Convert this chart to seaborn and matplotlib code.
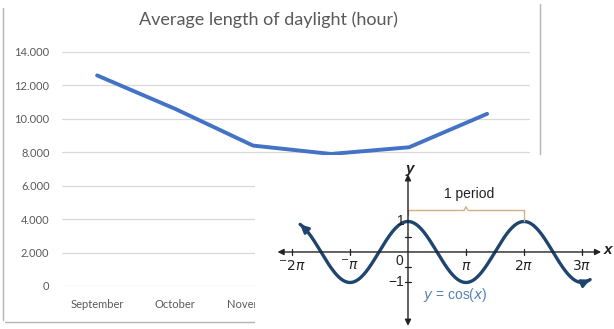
import numpy as np
import pandas as pd
import seaborn as sns
import matplotlib.pyplot as plt
from matplotlib.lines import Line2D

# Excel chart data
months = ["September", "October", "November", "December", "January", "February"]
daylight = [12.6, 10.6, 8.4, 7.9, 8.3, 10.3]
y_ticks = [0, 2, 4, 6, 8, 10, 12, 14]
y_labels = ["0", "2.000", "4.000", "6.000", "8.000", "10.000", "12.000", "14.000"]

# cosine graph (x in multiples of pi)
pi_ticks = [-2, -1, 1, 2, 3]
pi_labels = [r"$^{-}2\pi$", r"$^{-}\pi$", r"$\pi$", r"$2\pi$", r"$3\pi$"]
cos_start, cos_end = -1.86, 3.14

W, H = 614, 329
def fx(px):
    return px / W
def fy(py):
    return 1 - py / H

sns.set_style("white")
fig = plt.figure(figsize=(W / 100, H / 100), dpi=100)

# ---- background line chart
ax = fig.add_axes([fx(62), fy(286), fx(530) - fx(62), fy(52) - fy(286)])
ax.set_zorder(0)
df = pd.DataFrame({"month": months, "hours": daylight})
sns.lineplot(data=df, x="month", y="hours", ax=ax, color="#4472c4", lw=2.8, sort=False)
ax.set_xlim(-0.45, 5.55)
ax.set_ylim(0, 14)
ax.set_yticks(y_ticks)
ax.set_yticklabels(y_labels)
ax.grid(axis="y", color="#d9d9d9", lw=0.9)
ax.set_axisbelow(True)
for s in ax.spines.values():
    s.set_visible(False)
ax.tick_params(length=0, labelsize=8, labelcolor="#595959", pad=9)
for t in ax.get_xticklabels() + ax.get_yticklabels():
    t.set_family("Lato")
# the months after November sit under the cosine picture
for t in ax.get_xticklabels()[3:]:
    t.set_visible(False)
ax.set_xlabel("")
ax.set_ylabel("")
fig.text(fx(268), fy(20), "Average length of daylight (hour)", ha="center", va="center",
         fontsize=13, color="#595959", family="Lato")

# chart frame
fc = "#b4b4b4"
fig.add_artist(Line2D([fx(3), fx(3)], [fy(8), fy(320)], color=fc, lw=1, zorder=0.5))
fig.add_artist(Line2D([fx(5), fx(300)], [fy(322), fy(322)], color=fc, lw=1, zorder=0.5))
fig.add_artist(Line2D([fx(540), fx(540)], [fy(4), fy(160)], color=fc, lw=1, zorder=0.5))

# ---- overlaid cosine graph (white panel on top)
ax2 = fig.add_axes([fx(255), 0, 1 - fx(255), fy(155)])
ax2.set_zorder(2)
ax2.set_facecolor("white")
ax2.set_xlim(-2.638, 3.552)
ax2.set_ylim(-2.525, 3.18)
for s in ax2.spines.values():
    s.set_visible(False)
ax2.set_xticks([])
ax2.set_yticks([])

axc = "#222222"
ax2.annotate("", xy=(3.33, 0), xytext=(-2.25, 0),
             arrowprops=dict(arrowstyle="<|-|>", color=axc, lw=1, mutation_scale=9, shrinkA=0, shrinkB=0))
ax2.annotate("", xy=(0, 2.55), xytext=(0, -2.42),
             arrowprops=dict(arrowstyle="<|-|>", color=axc, lw=1, mutation_scale=9, shrinkA=0, shrinkB=0))
for t in pi_ticks:
    ax2.plot([t, t], [-0.1, 0.1], color=axc, lw=0.9)
for t in [-1, -0.5, 0.5, 1]:
    ax2.plot([-0.05, 0.05], [t, t], color=axc, lw=0.9)
for t, lab in zip(pi_ticks, pi_labels):
    ax2.text(t, -0.45, lab, ha="center", va="center", fontsize=10, color=axc)
ax2.text(-0.08, -0.3, "0", ha="right", va="center", fontsize=10, color=axc, family="Liberation Sans")
ax2.text(-0.06, 1.02, "1", ha="right", va="center", fontsize=10, color=axc, family="Liberation Sans")
ax2.text(-0.06, -1.0, "\u22121", ha="right", va="center", fontsize=10, color=axc, family="Liberation Sans")
ax2.text(3.44, 0.05, "x", ha="center", va="center", fontsize=11, color=axc, style="italic", weight="bold",
         family="Liberation Sans")
ax2.text(0.03, 2.72, "y", ha="center", va="center", fontsize=11, color=axc, style="italic", weight="bold",
         family="Liberation Sans")

xs = np.linspace(cos_start, cos_end, 500)
ccol = "#1f4470"
sns.lineplot(x=xs, y=np.cos(np.pi * xs), ax=ax2, color=ccol, lw=2.4, sort=False)
ax2.annotate("", xy=(xs[0], np.cos(np.pi * xs[0])), xytext=(xs[10], np.cos(np.pi * xs[10])),
             arrowprops=dict(arrowstyle="-|>", color=ccol, lw=2, mutation_scale=12, shrinkA=0, shrinkB=0))
ax2.annotate("", xy=(xs[-1], np.cos(np.pi * xs[-1])), xytext=(xs[-11], np.cos(np.pi * xs[-11])),
             arrowprops=dict(arrowstyle="-|>", color=ccol, lw=2, mutation_scale=12, shrinkA=0, shrinkB=0))
ax2.set_xlabel("")
ax2.set_ylabel("")

# "1 period" brace
bc = "#d6ae86"
ax2.plot([0, 0.97], [1.38, 1.38], color=bc, lw=1)
ax2.plot([1.03, 2], [1.38, 1.38], color=bc, lw=1)
ax2.plot([0.97, 1.0, 1.03], [1.38, 1.48, 1.38], color=bc, lw=1)
ax2.plot([0, 0], [1.38, 1.2], color=bc, lw=1)
ax2.plot([2, 2], [1.38, 1.0], color=bc, lw=1)
ax2.text(1.05, 1.9, "1 period", ha="center", va="center", fontsize=10, color=axc, family="Liberation Sans")
ax2.text(0.82, -1.42, r"$y$ = cos($x$)", ha="center", va="center", fontsize=10, color="#5580b5",
         family="Liberation Sans")

fig.savefig("out.png", dpi=100)
